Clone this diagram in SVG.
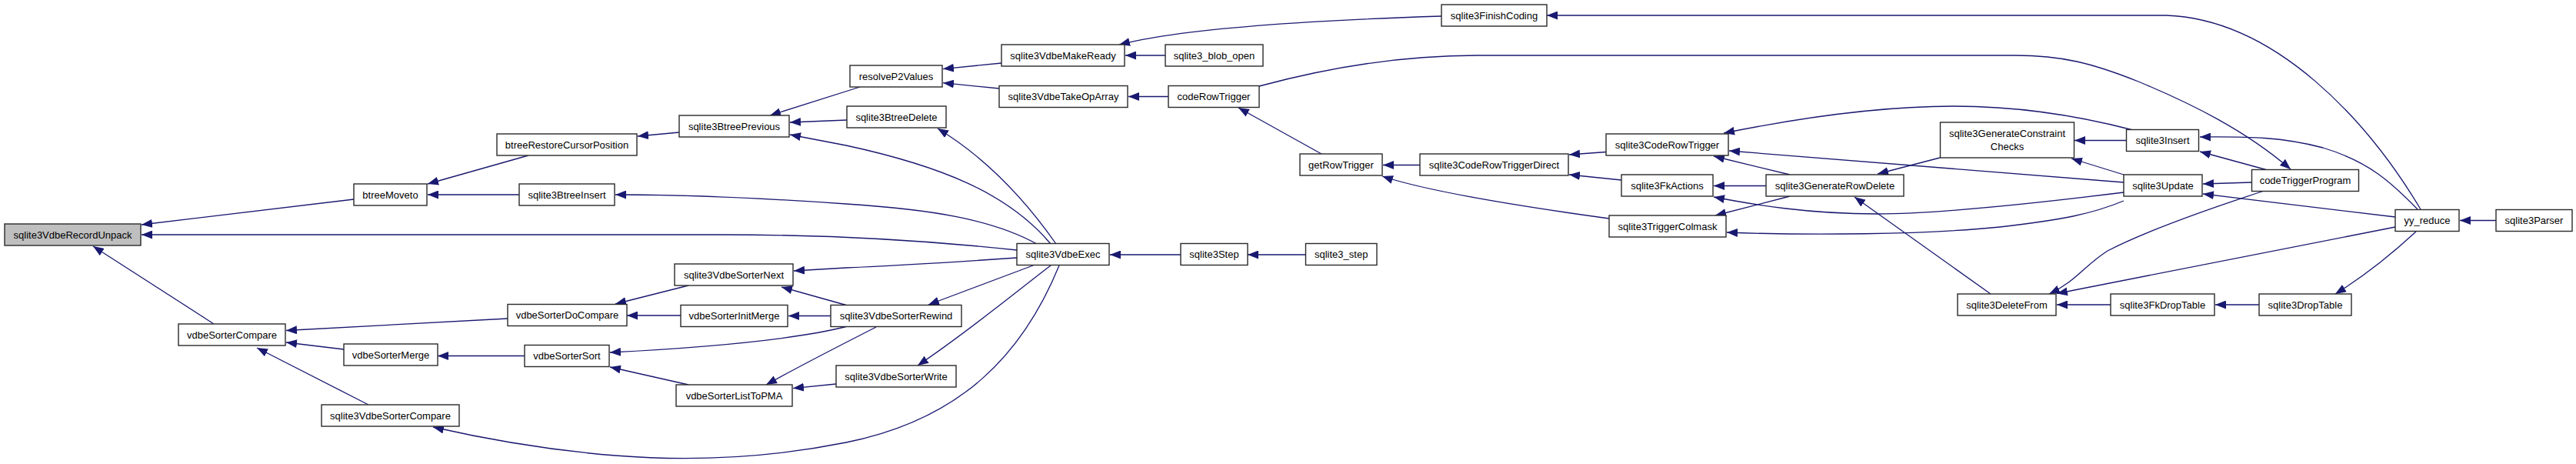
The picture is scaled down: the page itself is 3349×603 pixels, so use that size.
<svg xmlns="http://www.w3.org/2000/svg" width="3349" height="603" viewBox="0 0 3349 603">
<style>
.n rect{fill:#ffffff;stroke:#2a2a2a;stroke-width:1.4}
.n.root rect{fill:#bfbfbf}
.n text{font-family:"Liberation Sans",Arial,sans-serif;font-size:13px;fill:#000;text-anchor:middle}
.e path{fill:none;stroke:#191970;stroke-width:1.3;marker-end:url(#ah)}
</style>
<defs>
<marker id="ah" markerUnits="userSpaceOnUse" markerWidth="14" markerHeight="11" viewBox="0 0 14 11" refX="14" refY="5.5" orient="auto"><path d="M0,0 L14,5.5 L0,11 z" fill="#191970"/></marker>
</defs>
<rect x="0" y="0" width="3349" height="603" fill="#ffffff"/>
<g id="edges" class="e">
<path d="M460,259 L184,292"/>
<path d="M1322,325 C1220,314 1100,305 940,305 L184,305"/>
<path d="M278,421 L121,320"/>
<path d="M687,202 L556,239"/>
<path d="M675,253 L556,253"/>
<path d="M883,172 L829,177"/>
<path d="M1348,317 C1290,285 1210,272 1100,265 C1000,258 900,253 800,253"/>
<path d="M1366,317 C1310,250 1220,215 1100,189 L1027,175"/>
<path d="M1373,317 C1340,270 1290,210 1219,167"/>
<path d="M1322,335 C1250,340 1150,346 1100,348 L1032,352"/>
<path d="M1535,331 L1443,331"/>
<path d="M1697,331 L1622,331"/>
<path d="M1343,345 L1207,396"/>
<path d="M1366,345 C1320,380 1260,430 1193,475"/>
<path d="M1377,345 C1330,460 1250,545 1100,575 C1000,595 900,600 800,592 C700,584 620,568 563,555"/>
<path d="M1100,396.5 L1016,373"/>
<path d="M895,371 L800,395"/>
<path d="M885,410 L815,410"/>
<path d="M1080,410.5 L1025,410.5"/>
<path d="M1100,424.5 C1050,437 950,450 793,458"/>
<path d="M1139,425 C1100,445 1050,470 996,500"/>
<path d="M1087,499 L1031,504.6"/>
<path d="M895,500 L793,477"/>
<path d="M682,462.5 L569,462.5"/>
<path d="M660,414 L372,429.5"/>
<path d="M447,454 L372,445"/>
<path d="M479,526 L334,452"/>
<path d="M1302,82 L1226,89.6"/>
<path d="M1299,115 L1226,107.7"/>
<path d="M1515,72 L1463,72"/>
<path d="M1874,21 C1720,26 1540,36 1455,58"/>
<path d="M1519,125.5 L1467,125.5"/>
<path d="M1118,113 L1001,150"/>
<path d="M1101,156 L1027,159"/>
<path d="M1718,200 L1610,140"/>
<path d="M1637,112 C1700,95 1800,72 1920,72 L2620,72 C2680,72 2720,82 2780,106 C2850,135 2920,170 2978,220"/>
<path d="M1846,214.5 L1798,214.5"/>
<path d="M2092,284 C1990,270 1860,250 1797,229"/>
<path d="M2088,197.5 L2040,201"/>
<path d="M2108,234 L2040,227"/>
<path d="M3147,272 C3080,160 2960,25 2816,20 L2011,20"/>
<path d="M2327,227 L2228,203"/>
<path d="M2296,241.5 L2228,241.5"/>
<path d="M2327,255 L2230,280"/>
<path d="M2522,205 L2441,226"/>
<path d="M2588,382 L2411,256"/>
<path d="M2771,168.5 C2700,150 2620,138 2540,138 C2440,138 2330,155 2241,173"/>
<path d="M2761,237 L2248,196"/>
<path d="M2761,250 C2640,265 2520,278 2440,278 C2350,278 2280,266 2228,256"/>
<path d="M2761,261 C2720,278 2680,286 2600,295 C2500,305 2350,306 2245,302"/>
<path d="M2764.5,182.5 L2697,182.5"/>
<path d="M2761,227 L2693,206"/>
<path d="M2942,248.5 C2870,272 2790,300 2740,326 C2710,345 2700,365 2664,382"/>
<path d="M3114,295 L2674,381.5"/>
<path d="M2744,396 L2674,396"/>
<path d="M3143,272 C3110,238 3080,210 3020,192 C2960,176 2910,178 2860,178"/>
<path d="M2946,220.5 L2860,197"/>
<path d="M2927.5,237 L2864,239"/>
<path d="M3114,282 L2864,252"/>
<path d="M2937,396 L2880,396"/>
<path d="M3141,301 C3115,325 3080,355 3036,382"/>
<path d="M3245,286.5 L3198,286.5"/>
</g>
<g id="n_unpack" class="n root"><rect x="6" y="291" width="177" height="28"/><text x="94.5" y="309.5">sqlite3VdbeRecordUnpack</text></g>
<g id="n_btreeMoveto" class="n"><rect x="460" y="239" width="95" height="28"/><text x="507.5" y="257.5">btreeMoveto</text></g>
<g id="n_vdbeSorterCompare" class="n"><rect x="232" y="421" width="139" height="28"/><text x="301.5" y="439.5">vdbeSorterCompare</text></g>
<g id="n_vdbeSorterMerge" class="n"><rect x="447" y="447" width="122" height="28"/><text x="508" y="465.5">vdbeSorterMerge</text></g>
<g id="n_sqlite3VdbeSorterCompare" class="n"><rect x="418" y="526" width="179" height="28"/><text x="507.5" y="544.5">sqlite3VdbeSorterCompare</text></g>
<g id="n_btreeRestoreCursorPosition" class="n"><rect x="646" y="174" width="182" height="28"/><text x="737" y="192.5">btreeRestoreCursorPosition</text></g>
<g id="n_sqlite3BtreeInsert" class="n"><rect x="675" y="239" width="124" height="28"/><text x="737" y="257.5">sqlite3BtreeInsert</text></g>
<g id="n_sqlite3BtreePrevious" class="n"><rect x="883" y="150" width="143" height="28"/><text x="954.5" y="168.5">sqlite3BtreePrevious</text></g>
<g id="n_sqlite3VdbeSorterNext" class="n"><rect x="877" y="343" width="154" height="28"/><text x="954" y="361.5">sqlite3VdbeSorterNext</text></g>
<g id="n_vdbeSorterDoCompare" class="n"><rect x="660" y="395.5" width="155" height="28"/><text x="737.5" y="414">vdbeSorterDoCompare</text></g>
<g id="n_vdbeSorterInitMerge" class="n"><rect x="885" y="396.5" width="139" height="28"/><text x="954.5" y="415">vdbeSorterInitMerge</text></g>
<g id="n_vdbeSorterSort" class="n"><rect x="682" y="448.5" width="110" height="28"/><text x="737" y="467">vdbeSorterSort</text></g>
<g id="n_vdbeSorterListToPMA" class="n"><rect x="879" y="500" width="151" height="28"/><text x="954.5" y="518.5">vdbeSorterListToPMA</text></g>
<g id="n_sqlite3VdbeSorterRewind" class="n"><rect x="1080" y="396.5" width="170" height="28"/><text x="1165" y="415">sqlite3VdbeSorterRewind</text></g>
<g id="n_sqlite3VdbeSorterWrite" class="n"><rect x="1087" y="475" width="156" height="28"/><text x="1165" y="493.5">sqlite3VdbeSorterWrite</text></g>
<g id="n_resolveP2Values" class="n"><rect x="1105" y="85" width="120" height="28"/><text x="1165" y="103.5">resolveP2Values</text></g>
<g id="n_sqlite3BtreeDelete" class="n"><rect x="1101" y="138" width="129" height="28"/><text x="1165.5" y="156.5">sqlite3BtreeDelete</text></g>
<g id="n_sqlite3VdbeMakeReady" class="n"><rect x="1302" y="58" width="160" height="28"/><text x="1382" y="76.5">sqlite3VdbeMakeReady</text></g>
<g id="n_sqlite3_blob_open" class="n"><rect x="1515" y="58" width="127" height="28"/><text x="1578.5" y="76.5">sqlite3_blob_open</text></g>
<g id="n_sqlite3VdbeTakeOpArray" class="n"><rect x="1299" y="111.5" width="167" height="28"/><text x="1382.5" y="130">sqlite3VdbeTakeOpArray</text></g>
<g id="n_codeRowTrigger" class="n"><rect x="1519" y="111.5" width="118" height="28"/><text x="1578" y="130">codeRowTrigger</text></g>
<g id="n_sqlite3VdbeExec" class="n"><rect x="1322" y="316.5" width="120" height="28"/><text x="1382" y="335">sqlite3VdbeExec</text></g>
<g id="n_sqlite3Step" class="n"><rect x="1535" y="316.5" width="87" height="28"/><text x="1578.5" y="335">sqlite3Step</text></g>
<g id="n_sqlite3FinishCoding" class="n"><rect x="1874" y="6" width="137" height="28"/><text x="1942.5" y="24.5">sqlite3FinishCoding</text></g>
<g id="n_getRowTrigger" class="n"><rect x="1690" y="200" width="107" height="28"/><text x="1743.5" y="218.5">getRowTrigger</text></g>
<g id="n_sqlite3CodeRowTriggerDirect" class="n"><rect x="1846" y="200" width="193" height="28"/><text x="1942.5" y="218.5">sqlite3CodeRowTriggerDirect</text></g>
<g id="n_sqlite3CodeRowTrigger" class="n"><rect x="2088" y="174" width="159" height="28"/><text x="2167.5" y="192.5">sqlite3CodeRowTrigger</text></g>
<g id="n_sqlite3FkActions" class="n"><rect x="2108" y="227" width="119" height="28"/><text x="2167.5" y="245.5">sqlite3FkActions</text></g>
<g id="n_sqlite3TriggerColmask" class="n"><rect x="2092" y="280" width="152" height="28"/><text x="2168" y="298.5">sqlite3TriggerColmask</text></g>
<g id="n_sqlite3_step" class="n"><rect x="1697.5" y="316.5" width="92.5" height="28"/><text x="1743.7" y="335">sqlite3_step</text></g>
<g id="n_sqlite3GenerateRowDelete" class="n"><rect x="2296" y="227" width="179" height="28"/><text x="2385.5" y="245.5">sqlite3GenerateRowDelete</text></g>
<g id="n_sqlite3GenerateConstraintChecks" class="n"><rect x="2522.5" y="159" width="174" height="46"/><text x="2609.5" y="177.5">sqlite3GenerateConstraint</text><text x="2609.5" y="194.5">Checks</text></g>
<g id="n_sqlite3DeleteFrom" class="n"><rect x="2545" y="382" width="128" height="28"/><text x="2609" y="400.5">sqlite3DeleteFrom</text></g>
<g id="n_sqlite3FkDropTable" class="n"><rect x="2744" y="382" width="135" height="28"/><text x="2811.5" y="400.5">sqlite3FkDropTable</text></g>
<g id="n_sqlite3Insert" class="n"><rect x="2764.5" y="168.5" width="94" height="28"/><text x="2811.5" y="187">sqlite3Insert</text></g>
<g id="n_sqlite3Update" class="n"><rect x="2761" y="227" width="102" height="28"/><text x="2812" y="245.5">sqlite3Update</text></g>
<g id="n_codeTriggerProgram" class="n"><rect x="2927.5" y="220.5" width="139" height="28"/><text x="2997" y="239">codeTriggerProgram</text></g>
<g id="n_yy_reduce" class="n"><rect x="3114" y="272.5" width="83" height="28"/><text x="3155.5" y="291">yy_reduce</text></g>
<g id="n_sqlite3Parser" class="n"><rect x="3245" y="272.5" width="99" height="28"/><text x="3294.5" y="291">sqlite3Parser</text></g>
<g id="n_sqlite3DropTable" class="n"><rect x="2937" y="382" width="120" height="28"/><text x="2997" y="400.5">sqlite3DropTable</text></g>
</svg>
